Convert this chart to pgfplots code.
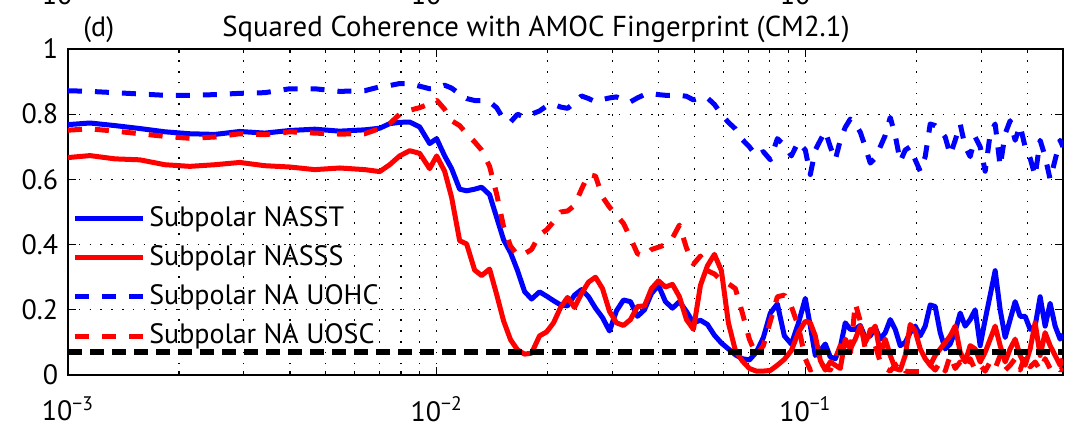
\documentclass[border=0pt]{standalone}
\usepackage{fontspec}
\setmainfont{PT Sans}
\usepackage{pgfplots}
\usepackage{pgfplotstable}
\pgfplotsset{compat=1.18}

\pgfplotstableread{
x a b c d
0.001 0.768 0.667 0.872 0.751
0.001147 0.773 0.673 0.870 0.755
0.001341 0.765 0.663 0.866 0.748
0.001567 0.756 0.660 0.862 0.740
0.001832 0.746 0.645 0.858 0.732
0.002141 0.740 0.640 0.858 0.726
0.002502 0.738 0.645 0.860 0.730
0.002925 0.747 0.652 0.864 0.740
0.003419 0.742 0.642 0.866 0.737
0.003996 0.750 0.638 0.878 0.746
0.00467 0.754 0.630 0.878 0.742
0.005459 0.748 0.635 0.870 0.739
0.00638 0.752 0.630 0.872 0.740
0.007008 0.757 0.624 0.884 0.756
0.007458 0.771 0.645 0.888 0.771
0.007938 0.775 0.672 0.894 0.800
0.008449 0.776 0.688 0.894 0.812
0.008992 0.761 0.680 0.886 0.820
0.009572 0.710 0.633 0.878 0.832
0.01 0.725 0.672 0.880 0.843
0.010512 0.672 0.625 0.889 0.815
0.01098 0.633 0.545 0.880 0.780
0.011545 0.570 0.412 0.862 0.765
0.012059 0.565 0.402 0.848 0.740
0.012677 0.570 0.322 0.842 0.715
0.013243 0.576 0.305 0.842 0.690
0.013919 0.553 0.325 0.838 0.640
0.014541 0.484 0.248 0.820 0.556
0.01519 0.415 0.166 0.785 0.455
0.015869 0.375 0.108 0.776 0.395
0.016578 0.320 0.077 0.800 0.368
0.017318 0.256 0.064 0.790 0.372
0.018091 0.233 0.067 0.800 0.385
0.019017 0.255 0.120 0.810 0.430
0.019866 0.242 0.132 0.825 0.445
0.020754 0.228 0.160 0.830 0.470
0.02168 0.215 0.207 0.822 0.500
0.022649 0.212 0.238 0.818 0.503
0.02366 0.245 0.207 0.835 0.520
0.024716 0.262 0.250 0.856 0.570
0.02582 0.240 0.285 0.848 0.615
0.026973 0.205 0.300 0.838 0.610
0.028178 0.176 0.265 0.845 0.546
0.029436 0.135 0.195 0.850 0.515
0.030751 0.197 0.160 0.853 0.490
0.032124 0.230 0.152 0.845 0.465
0.033559 0.225 0.170 0.838 0.420
0.035058 0.180 0.210 0.850 0.372
0.036623 0.200 0.212 0.860 0.365
0.038258 0.250 0.265 0.864 0.385
0.039966 0.275 0.289 0.860 0.392
0.04175 0.225 0.270 0.858 0.400
0.043614 0.205 0.278 0.858 0.420
0.045562 0.225 0.240 0.858 0.460
0.047596 0.195 0.170 0.855 0.390
0.049721 0.160 0.140 0.844 0.340
0.051941 0.168 0.275 0.850 0.365
0.05426 0.155 0.335 0.850 0.320
0.056683 0.122 0.370 0.830 0.310
0.059214 0.098 0.320 0.800 0.290
0.061857 0.080 0.160 0.775 0.280
0.064619 0.062 0.075 0.755 0.265
0.067504 0.050 0.043 0.722 0.190
0.070518 0.046 0.020 0.700 0.110
0.073667 0.070 0.012 0.672 0.060
0.076956 0.115 0.012 0.685 0.090
0.080392 0.190 0.014 0.660 0.165
0.083981 0.218 0.030 0.725 0.240
0.087731 0.120 0.048 0.705 0.245
0.091648 0.095 0.075 0.672 0.210
0.095726 0.158 0.130 0.715 0.150
0.1 0.235 0.165 0.690 0.050
0.103169 0.150 0.160 0.615 0.015
0.106439 0.060 0.120 0.690 0.025
0.109813 0.075 0.045 0.720 0.040
0.113294 0.095 0.015 0.748 0.020
0.116885 0.055 0.040 0.700 0.015
0.12059 0.050 0.030 0.660 0.050
0.124413 0.085 0.020 0.720 0.090
0.128356 0.160 0.110 0.760 0.080
0.132425 0.140 0.080 0.785 0.060
0.136622 0.140 0.110 0.770 0.220
0.140953 0.152 0.150 0.745 0.165
0.145421 0.115 0.100 0.700 0.080
0.15003 0.120 0.130 0.650 0.140
0.154786 0.145 0.150 0.665 0.090
0.159692 0.110 0.065 0.700 0.040
0.164754 0.130 0.110 0.735 0.020
0.169977 0.170 0.060 0.790 0.012
0.175365 0.140 0.020 0.735 0.030
0.180923 0.090 0.015 0.655 0.040
0.186658 0.100 0.060 0.690 0.012
0.192575 0.130 0.155 0.700 0.010
0.198679 0.150 0.135 0.660 0.010
0.204977 0.120 0.080 0.625 0.010
0.211474 0.150 0.050 0.670 0.010
0.218177 0.215 0.030 0.770 0.030
0.225093 0.210 0.060 0.765 0.015
0.232228 0.130 0.080 0.750 0.040
0.239589 0.080 0.100 0.730 0.012
0.247183 0.095 0.120 0.675 0.060
0.255018 0.135 0.150 0.720 0.020
0.263101 0.190 0.070 0.770 0.040
0.271441 0.150 0.040 0.700 0.020
0.280045 0.170 0.090 0.670 0.050
0.288922 0.200 0.080 0.730 0.015
0.29808 0.090 0.040 0.700 0.030
0.307528 0.170 0.070 0.625 0.012
0.317276 0.245 0.110 0.740 0.040
0.327333 0.320 0.150 0.770 0.020
0.337709 0.200 0.090 0.640 0.060
0.348413 0.115 0.040 0.740 0.015
0.359457 0.170 0.080 0.780 0.030
0.37085 0.225 0.110 0.720 0.050
0.382605 0.180 0.060 0.765 0.015
0.394733 0.180 0.030 0.700 0.060
0.407245 0.140 0.080 0.665 0.025
0.420153 0.150 0.160 0.610 0.040
0.433471 0.240 0.060 0.720 0.015
0.447211 0.150 0.130 0.670 0.050
0.461386 0.220 0.090 0.600 0.020
0.476011 0.150 0.060 0.660 0.030
0.491099 0.110 0.030 0.720 0.015
0.5 0.125 0.050 0.700 0.020
}\data

\begin{document}
\begin{tikzpicture}
\fontsize{14}{16}\selectfont
\path[use as bounding box] (-34pt,-23.5pt) rectangle (504pt,187.5pt);
\begin{axis}[
  at={(0,0)}, anchor=south west,
  width=497.5pt, height=163pt, scale only axis,
  xmode=log, xmin=0.001, xmax=0.5, ymin=0, ymax=1,
  xtick={0.001,0.01,0.1},
  xticklabels={10\textsuperscript{−3},10\textsuperscript{−2},10\textsuperscript{−1}},
  minor xtick={0.002,0.003,0.004,0.005,0.006,0.007,0.008,0.009,0.02,0.03,0.04,0.05,0.06,0.07,0.08,0.09,0.2,0.3,0.4},
  ytick={0,0.2,0.4,0.6,0.8,1},
  yticklabels={0,0.2,0.4,0.6,0.8,1},
  tick align=inside, xtick pos=both, ytick pos=both,
  major tick length=4pt, minor tick length=2pt,
  tick style={black, line width=0.6pt},
  xmajorgrids, xminorgrids, ymajorgrids,
  major grid style={black, line width=0.6pt, dash pattern=on 0.8pt off 4.6pt},
  minor grid style={black, line width=0.6pt, dash pattern=on 0.8pt off 4.6pt},
  axis line style={black, line width=0.8pt},
  xticklabel style={yshift=-6pt},
  ticklabel style={font=\fontsize{14}{16}\selectfont},
  legend style={draw=none, fill=none, at={(0.004,0.53)}, anchor=north west,
    font=\fontsize{14}{16}\selectfont, row sep=3.5pt, inner sep=0pt},
  legend cell align=left,
  legend image code/.code={\draw[#1] (0pt,0pt) -- (34pt,0pt);},
  every axis plot/.append style={line join=round},
]
\addplot[blue, line width=2.5pt] table[x=x,y=a]{\data};
\addlegendentry{Subpolar NASST}
\addplot[red, line width=2.5pt] table[x=x,y=b]{\data};
\addlegendentry{Subpolar NASSS}
\addplot[blue, line width=2.5pt, dash pattern=on 7pt off 6.5pt] table[x=x,y=c]{\data};
\addlegendentry{Subpolar NA UOHC}
\addplot[red, line width=2.5pt, dash pattern=on 7pt off 6.5pt] table[x=x,y=d]{\data};
\addlegendentry{Subpolar NA UOSC}
\addplot[black, line width=3pt, dash pattern=on 7pt off 4pt, forget plot] coordinates {(0.001,0.07) (0.5,0.07)};
\end{axis}
\node[anchor=base, font=\fontsize{14.4}{16}\selectfont] at (234pt,169pt) {Squared Coherence with AMOC Fingerprint (CM2.1)};
\node[anchor=base west, inner sep=0pt] at (7.5pt,169pt) {(d)};
\node[anchor=base] at (0pt,185pt) {10\textsuperscript{−3}};
\node[anchor=base] at (184.5pt,185pt) {10\textsuperscript{−2}};
\node[anchor=base] at (369pt,185pt) {10\textsuperscript{−1}};
\end{tikzpicture}
\end{document}
